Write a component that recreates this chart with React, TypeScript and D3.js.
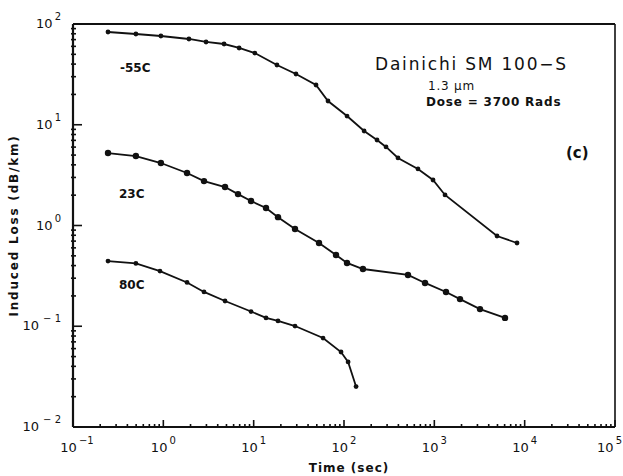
import * as d3 from "d3";

// -55C series
const tCold = [0.244, 0.497, 0.94, 1.92, 2.97, 4.7, 6.9, 10.3, 18.1, 29.4, 49, 66.5, 108, 167, 232, 292, 396, 659, 967, 1313, 4940, 8230];
const vCold = [83.3, 79.6, 76, 71, 66.3, 63.3, 57.8, 51.5, 39.2, 31.9, 24.8, 17.2, 12.2, 8.67, 7.06, 6.02, 4.68, 3.64, 2.83, 2.01, 0.787, 0.67];

// 23C series
const tRoom = [0.244, 0.497, 0.94, 1.83, 2.82, 4.82, 6.71, 9.35, 13.7, 18.6, 28.7, 52.9, 81.6, 108, 162, 511, 789, 1347, 1925, 3204, 6058];
const vRoom = [5.24, 4.89, 4.17, 3.32, 2.76, 2.41, 2.05, 1.75, 1.49, 1.21, 0.923, 0.67, 0.509, 0.425, 0.37, 0.323, 0.269, 0.219, 0.186, 0.148, 0.121];

// 80C series
const tHot = [0.244, 0.497, 0.918, 1.83, 2.82, 4.82, 9.35, 13.7, 18.6, 28.7, 58.6, 92.7, 111, 136];
const vHot = [0.444, 0.42, 0.353, 0.272, 0.219, 0.178, 0.14, 0.121, 0.113, 0.1005, 0.0764, 0.0555, 0.0442, 0.0252];

const xExps = [-1, 0, 1, 2, 3, 4, 5];
const yExps = [-2, -1, 0, 1, 2];

const width = 623;
const height = 476;
const marginLeft = 73;
const marginRight = 8;
const marginTop = 24;
const marginBottom = 49;

const font = "'DejaVu Sans', sans-serif";

export default function App() {
    const x = d3.scaleLog([0.1, 1e5], [marginLeft, width - marginRight]);
    const y = d3.scaleLog([0.01, 100], [height - marginBottom, marginTop]);

    const line = d3.line<[number, number]>(d => x(d[0]), d => y(d[1]));

    const series = [
        { t: tCold, v: vCold, r: 2.4 },
        { t: tRoom, v: vRoom, r: 3.2 },
        { t: tHot, v: vHot, r: 2.4 },
    ];

    // minor ticks 2..9 in each decade
    const minorX: number[] = [];
    for (let e = -1; e < 5; e++) for (let k = 2; k < 10; k++) minorX.push(k * Math.pow(10, e));
    const minorY: number[] = [];
    for (let e = -2; e < 2; e++) for (let k = 2; k < 10; k++) minorY.push(k * Math.pow(10, e));

    const x0 = marginLeft, x1 = width - marginRight;
    const y0 = height - marginBottom, y1 = marginTop;

    return (
        <svg width={width} height={height} style={{ position: "absolute", left: 0, top: 0, background: "white" }}
             fontFamily={font}>
            {/* frame */}
            <g stroke="#111" fill="none">
                <line x1={x0} y1={y0} x2={x1} y2={y0} strokeWidth={2.2} />
                <line x1={x0} y1={y0} x2={x0} y2={y1} strokeWidth={2.2} />
                <line x1={x0} y1={y1} x2={x1} y2={y1} strokeWidth={2} />
                <line x1={x1} y1={y1} x2={x1} y2={y0} strokeWidth={1.6} />
            </g>

            {/* ticks */}
            <g stroke="#111" strokeWidth={1.6}>
                {minorX.map((d, i) => (
                    <line key={"mx" + i} x1={x(d)} x2={x(d)} y1={y0} y2={y0 - 3} />
                ))}
                {xExps.map(e => (
                    <line key={"Mx" + e} x1={x(Math.pow(10, e))} x2={x(Math.pow(10, e))} y1={y0} y2={y0 - 7} />
                ))}
                {minorY.map((d, i) => (
                    <line key={"my" + i} x1={x0 - 2} x2={x0 + 3} y1={y(d)} y2={y(d)} />
                ))}
                {yExps.map(e => (
                    <line key={"My" + e} x1={x0} x2={x0 + 9} y1={y(Math.pow(10, e))} y2={y(Math.pow(10, e))} />
                ))}
            </g>

            {/* x tick labels */}
            <g fill="#111" fontSize={13}>
                {xExps.map(e => (
                    <text key={"xl" + e}
                          x={e === 5 ? width - 1 : x(Math.pow(10, e)) + (e < 0 ? 4 : 0)}
                          y={y0 + 25} textAnchor={e === 5 ? "end" : "middle"}>
                        10<tspan dy={-8} dx={2} fontSize={10}>{e < 0 ? "\u2212" + Math.abs(e) : e}</tspan>
                    </text>
                ))}
            </g>

            {/* y tick labels */}
            <g fill="#111" fontSize={13}>
                {yExps.map(e => (
                    <text key={"yl" + e} x={x0 - 12} y={y(Math.pow(10, e)) + 4} textAnchor="end">
                        10<tspan dy={-8} dx={e < 0 ? 4 : 2} fontSize={10}>{e < 0 ? "\u2212 " + Math.abs(e) : e}</tspan>
                    </text>
                ))}
            </g>

            {/* axis titles */}
            <text x={349} y={height - 4} textAnchor="middle" fontSize={12} letterSpacing={1} fontWeight="bold" fill="#111">
                Time (sec)
            </text>
            <text transform={`translate(18,${(y0 + y1) / 2}) rotate(-90)`} textAnchor="middle" fontSize={12}
                  letterSpacing={1.8} fontWeight="bold" fill="#111">
                Induced Loss (dB/km)
            </text>

            {/* series */}
            {series.map((s, i) => {
                const pts = s.t.map((t, j) => [t, s.v[j]] as [number, number]);
                return (
                    <g key={i}>
                        <path d={line(pts) || undefined} fill="none" stroke="#111" strokeWidth={1.8} />
                        {pts.map((p, j) => (
                            <circle key={j} cx={x(p[0])} cy={y(p[1])} r={s.r} fill="#111" />
                        ))}
                    </g>
                );
            })}

            {/* curve labels */}
            <g fill="#111" fontSize={12} fontWeight="bold">
                <text x={120} y={72}>-55C</text>
                <text x={119} y={198}>23C</text>
                <text x={119} y={289}>80C</text>
            </g>

            {/* annotations */}
            <g fill="#111">
                <text x={375} y={70} fontSize={17} letterSpacing={1.8}>Dainichi SM 100{"\u2212"}S</text>
                <text x={428} y={90} fontSize={12} letterSpacing={0.8}>1.3 {"\u03bc"}m</text>
                <text x={426} y={106} fontSize={12} letterSpacing={0.8} fontWeight="bold">Dose = 3700 Rads</text>
                <text x={566} y={158} fontSize={15} fontWeight="bold">(c)</text>
            </g>
        </svg>
    );
}
